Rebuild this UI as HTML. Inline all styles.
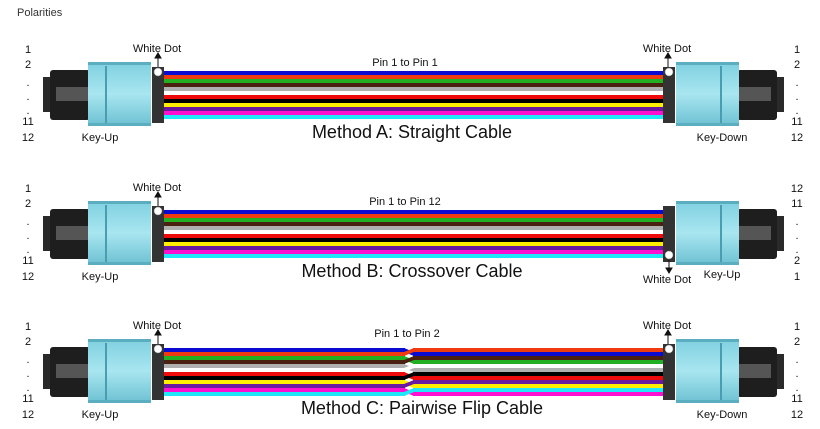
<!DOCTYPE html>
<html><head><meta charset="utf-8"><style>
html,body{margin:0;padding:0;background:#fff;}
svg{display:block;font-family:"Liberation Sans",Arial,sans-serif;}
</style></head><body>
<svg width="820" height="429" viewBox="0 0 820 429" xmlns="http://www.w3.org/2000/svg">
<defs>
<linearGradient id="wA" x1="0" y1="0" x2="0" y2="1">
<stop offset="0" stop-color="#0a0ad0"/><stop offset=".0833" stop-color="#0a0ad0"/>
<stop offset=".0833" stop-color="#f03a10"/><stop offset=".1667" stop-color="#f03a10"/>
<stop offset=".1667" stop-color="#22b022"/><stop offset=".25" stop-color="#22b022"/>
<stop offset=".25" stop-color="#4a2010"/><stop offset=".3333" stop-color="#4a2010"/>
<stop offset=".3333" stop-color="#b0b0b0"/><stop offset=".4167" stop-color="#b0b0b0"/>
<stop offset=".4167" stop-color="#ffffff"/><stop offset=".5" stop-color="#ffffff"/>
<stop offset=".5" stop-color="#ee0a0a"/><stop offset=".5833" stop-color="#ee0a0a"/>
<stop offset=".5833" stop-color="#000000"/><stop offset=".6667" stop-color="#000000"/>
<stop offset=".6667" stop-color="#ffee00"/><stop offset=".75" stop-color="#ffee00"/>
<stop offset=".75" stop-color="#6a1aa0"/><stop offset=".8333" stop-color="#6a1aa0"/>
<stop offset=".8333" stop-color="#ff10d0"/><stop offset=".9167" stop-color="#ff10d0"/>
<stop offset=".9167" stop-color="#20e8f8"/><stop offset="1" stop-color="#20e8f8"/>
</linearGradient>
<linearGradient id="wC" x1="0" y1="0" x2="0" y2="1">
<stop offset="0" stop-color="#f03a10"/><stop offset=".0833" stop-color="#f03a10"/>
<stop offset=".0833" stop-color="#0a0ad0"/><stop offset=".1667" stop-color="#0a0ad0"/>
<stop offset=".1667" stop-color="#4a2010"/><stop offset=".25" stop-color="#4a2010"/>
<stop offset=".25" stop-color="#22b022"/><stop offset=".3333" stop-color="#22b022"/>
<stop offset=".3333" stop-color="#ffffff"/><stop offset=".4167" stop-color="#ffffff"/>
<stop offset=".4167" stop-color="#b0b0b0"/><stop offset=".5" stop-color="#b0b0b0"/>
<stop offset=".5" stop-color="#000000"/><stop offset=".5833" stop-color="#000000"/>
<stop offset=".5833" stop-color="#ee0a0a"/><stop offset=".6667" stop-color="#ee0a0a"/>
<stop offset=".6667" stop-color="#6a1aa0"/><stop offset=".75" stop-color="#6a1aa0"/>
<stop offset=".75" stop-color="#ffee00"/><stop offset=".8333" stop-color="#ffee00"/>
<stop offset=".8333" stop-color="#20e8f8"/><stop offset=".9167" stop-color="#20e8f8"/>
<stop offset=".9167" stop-color="#ff10d0"/><stop offset="1" stop-color="#ff10d0"/>
</linearGradient>
<linearGradient id="aq" x1="0" y1="0" x2="0" y2="1">
<stop offset="0" stop-color="#7fd0e0"/><stop offset=".5" stop-color="#a8e6f0"/><stop offset="1" stop-color="#6cc0d2"/>
</linearGradient>
<g id="conn">
<rect x="43" y="77" width="9" height="35" fill="#2a2a2a"/>
<rect x="50" y="70" width="40" height="50" rx="3" fill="#1e1e1e"/>
<rect x="56" y="87" width="34" height="14" fill="#555"/>
<rect x="88" y="62" width="63" height="64" fill="url(#aq)"/>
<rect x="88" y="62" width="63" height="3" fill="#5aaec0"/>
<rect x="88" y="123" width="63" height="3" fill="#5aaec0"/>
<rect x="105" y="66" width="2" height="57" fill="#4a9db0"/>
<rect x="152" y="67" width="12" height="56" fill="#333"/>
</g>
</defs>
<text x="17" y="16" font-size="11" fill="#333">Polarities</text>

<!-- Row A -->
<g>
<use href="#conn"/>
<use href="#conn" transform="translate(827,0) scale(-1,1)"/>
<rect x="164" y="71" width="499" height="48" fill="url(#wA)"/>
<circle cx="158" cy="72" r="4" fill="#fff" stroke="#888" stroke-width=".5"/>
<circle cx="669" cy="72" r="4" fill="#fff" stroke="#888" stroke-width=".5"/>
</g>
<!-- Row B -->
<g transform="translate(0,139)">
<use href="#conn"/>
<use href="#conn" transform="translate(827,0) scale(-1,1)"/>
<rect x="164" y="71" width="499" height="48" fill="url(#wA)"/>
<circle cx="158" cy="72" r="4" fill="#fff" stroke="#888" stroke-width=".5"/>
<circle cx="669" cy="116" r="4" fill="#fff" stroke="#888" stroke-width=".5"/>
</g>
<!-- Row C -->
<g transform="translate(0,277)">
<use href="#conn"/>
<use href="#conn" transform="translate(827,0) scale(-1,1)"/>
<rect x="164" y="71" width="241" height="48" fill="url(#wA)"/>
<rect x="413" y="71" width="250" height="48" fill="url(#wC)"/>
<polygon points="404,71 414,75 414,79 404,75" fill="#0a0ad0"/>
<polygon points="404,75 414,71 414,75 404,79" fill="#f03a10"/>
<polygon points="404,79 414,83 414,87 404,83" fill="#22b022"/>
<polygon points="404,83 414,79 414,83 404,87" fill="#4a2010"/>
<polygon points="404,87 414,91 414,95 404,91" fill="#b0b0b0"/>
<polygon points="404,91 414,87 414,91 404,95" fill="#ffffff"/>
<polygon points="404,95 414,99 414,103 404,99" fill="#ee0a0a"/>
<polygon points="404,99 414,95 414,99 404,103" fill="#000000"/>
<polygon points="404,103 414,107 414,111 404,107" fill="#ffee00"/>
<polygon points="404,107 414,103 414,107 404,111" fill="#6a1aa0"/>
<polygon points="404,111 414,115 414,119 404,115" fill="#ff10d0"/>
<polygon points="404,115 414,111 414,115 404,119" fill="#20e8f8"/>
<circle cx="158" cy="72" r="4" fill="#fff" stroke="#888" stroke-width=".5"/>
<circle cx="669" cy="72" r="4" fill="#fff" stroke="#888" stroke-width=".5"/>
</g>

<g font-size="11" fill="#111" text-anchor="middle">
<g><text x="28" y="53">1</text><text x="28" y="68">2</text><text x="28" y="86">.</text><text x="28" y="100">.</text><text x="28" y="114">.</text><text x="28" y="125">11</text><text x="28" y="141">12</text></g>
<g transform="translate(0,139)"><text x="28" y="53">1</text><text x="28" y="68">2</text><text x="28" y="86">.</text><text x="28" y="100">.</text><text x="28" y="114">.</text><text x="28" y="125">11</text><text x="28" y="141">12</text></g>
<g transform="translate(0,277)"><text x="28" y="53">1</text><text x="28" y="68">2</text><text x="28" y="86">.</text><text x="28" y="100">.</text><text x="28" y="114">.</text><text x="28" y="125">11</text><text x="28" y="141">12</text></g>
<g><text x="797" y="53">1</text><text x="797" y="68">2</text><text x="797" y="86">.</text><text x="797" y="100">.</text><text x="797" y="114">.</text><text x="797" y="125">11</text><text x="797" y="141">12</text></g>
<g transform="translate(0,139)"><text x="797" y="53">12</text><text x="797" y="68">11</text><text x="797" y="86">.</text><text x="797" y="100">.</text><text x="797" y="114">.</text><text x="797" y="125">2</text><text x="797" y="141">1</text></g>
<g transform="translate(0,277)"><text x="797" y="53">1</text><text x="797" y="68">2</text><text x="797" y="86">.</text><text x="797" y="100">.</text><text x="797" y="114">.</text><text x="797" y="125">11</text><text x="797" y="141">12</text></g>

<text x="157" y="52">White Dot</text><text x="667" y="52">White Dot</text>
<text x="157" y="191">White Dot</text><text x="667" y="283">White Dot</text>
<text x="157" y="329">White Dot</text><text x="667" y="329">White Dot</text>
<text x="100" y="141">Key-Up</text><text x="722" y="141">Key-Down</text>
<text x="100" y="280">Key-Up</text><text x="722" y="278">Key-Up</text>
<text x="100" y="418">Key-Up</text><text x="722" y="418">Key-Down</text>
<text x="405" y="66">Pin 1 to Pin 1</text>
<text x="405" y="205">Pin 1 to Pin 12</text>
<text x="407" y="337">Pin 1 to Pin 2</text>
</g>
<g stroke="#111" stroke-width="1" fill="#111">
<line x1="158" y1="56" x2="158" y2="67"/><polygon points="155,58 161,58 158,53"/>
<line x1="668" y1="56" x2="668" y2="67"/><polygon points="665,58 671,58 668,53"/>
<line x1="158" y1="195" x2="158" y2="206"/><polygon points="155,197 161,197 158,192"/>
<line x1="669" y1="260" x2="669" y2="270"/><polygon points="666,268 672,268 669,273"/>
<line x1="158" y1="333" x2="158" y2="344"/><polygon points="155,335 161,335 158,330"/>
<line x1="668" y1="333" x2="668" y2="344"/><polygon points="665,335 671,335 668,330"/>
</g>
<g font-size="18" fill="#111" text-anchor="middle">
<text x="412" y="138">Method A: Straight Cable</text>
<text x="412" y="277">Method B: Crossover Cable</text>
<text x="422" y="414">Method C: Pairwise Flip Cable</text>
</g>
</svg>
</body></html>
